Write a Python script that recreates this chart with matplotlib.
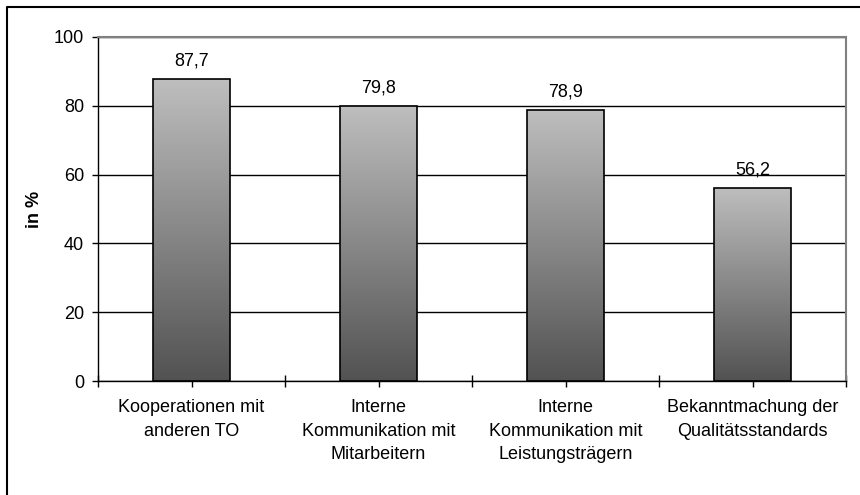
import matplotlib
matplotlib.use("Agg")
import matplotlib.pyplot as plt
import numpy as np
from matplotlib.lines import Line2D
from matplotlib.patches import Rectangle
from matplotlib.colors import LinearSegmentedColormap

categories = ["Kooperationen mit\nanderen TO",
              "Interne\nKommunikation mit\nMitarbeitern",
              "Interne\nKommunikation mit\nLeistungsträgern",
              "Bekanntmachung der\nQualitätsstandards"]
values = [87.7, 79.8, 78.9, 56.2]
value_labels = ["87,7", "79,8", "78,9", "56,2"]
yticks = [0, 20, 40, 60, 80, 100]

plt.rcParams['font.family'] = ['Liberation Sans', 'DejaVu Sans']
FS = 13

W, H = 860, 495
fig = plt.figure(figsize=(W / 100, H / 100), dpi=100)
ax = fig.add_axes([98 / W, 1 - 381 / H, (846 - 98) / W, (381 - 37) / H])

x = np.arange(len(values))
bw = 0.41
grad = np.linspace(0, 1, 256).reshape(-1, 1)
cmap = LinearSegmentedColormap.from_list("g", ["#525252", "#bebebe"])
bars = ax.bar(x, values, width=bw, facecolor="none", edgecolor="black", linewidth=1.2, zorder=4)
for b in bars:
    x0, y0 = b.get_x(), b.get_y()
    w, h = b.get_width(), b.get_height()
    im = ax.imshow(grad, extent=[x0, x0 + w, y0, y0 + h], origin="lower",
                   cmap=cmap, aspect="auto", zorder=3, interpolation="bilinear")
    im.set_clip_path(Rectangle((x0, y0), w, h, transform=ax.transData))
for xi, v, lab in zip(x, values, value_labels):
    ax.annotate(lab, (xi, v), xytext=(0, 13), textcoords="offset points",
                ha="center", va="center", fontsize=FS)

ax.set_xlim(-0.5, len(values) - 0.5)
ax.set_ylim(0, 100)
ax.set_yticks(yticks)
ax.set_yticklabels([str(t) for t in yticks], fontsize=FS)
ax.yaxis.grid(True, color="black", linewidth=1.0, zorder=1)
ax.set_axisbelow(True)
ax.tick_params(axis="y", direction="out", length=4, width=1, pad=6)

ax.set_xticks(np.arange(-0.5, len(values), 1.0))
ax.set_xticklabels([])
ax.set_xticks(x, minor=True)
ax.set_xticklabels(categories, minor=True, fontsize=FS, linespacing=1.5)
ax.tick_params(axis="x", which="major", direction="inout", length=9, width=1)
ax.tick_params(axis="x", which="minor", direction="out", length=4, width=1, pad=9)

for s in ["top", "right"]:
    ax.spines[s].set_color("#808080")
    ax.spines[s].set_linewidth(1.5)
for s in ["left", "bottom"]:
    ax.spines[s].set_color("black")
    ax.spines[s].set_linewidth(1.0)

ax.set_ylabel("in %", fontsize=FS, fontweight="bold")
ax.yaxis.set_label_coords((43 - 98) / 748, 0.5)

fig.add_artist(Line2D([7 / W, 7 / W, 1.01], [-0.01, 1 - 7 / H, 1 - 7 / H],
                      transform=fig.transFigure, color="black", linewidth=1.5))

fig.savefig("out.png", dpi=100)
